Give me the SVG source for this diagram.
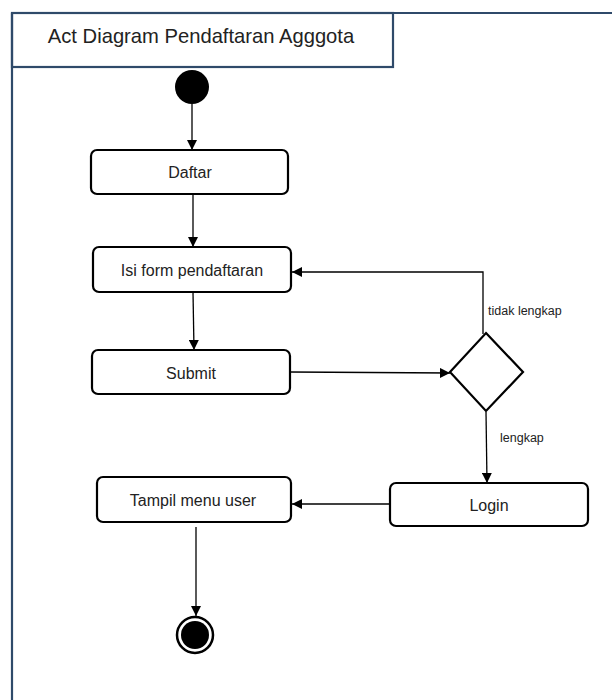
<svg xmlns="http://www.w3.org/2000/svg" width="612" height="700" viewBox="0 0 612 700">
<style>
.frame{fill:none;stroke:#2f4a6a;stroke-width:2.2}
.act{fill:#fff;stroke:#000;stroke-width:2.2}
.lbl{font-family:"Liberation Sans",Arial,sans-serif;font-size:16px;fill:#222;text-anchor:middle}
.small{font-family:"Liberation Sans",Arial,sans-serif;font-size:12.5px;fill:#222}
.edge{fill:none;stroke:#000;stroke-width:1.3}
</style>
<defs>
<marker id="arr" viewBox="0 0 10 10" refX="10" refY="5" markerWidth="10" markerHeight="10" markerUnits="userSpaceOnUse" orient="auto">
<path d="M0,0 L10,5 L0,10 Z" fill="#000"/>
</marker>
</defs>
<rect width="612" height="700" fill="#fff"/>
<g id="frame">
<path class="frame" d="M12,13 H612 M12,13 V700"/>
<rect class="frame" x="12" y="13" width="381" height="54"/>
<text x="201" y="43" style="font-family:'Liberation Sans',Arial,sans-serif;font-size:20.2px;fill:#222;text-anchor:middle">Act Diagram Pendaftaran Agggota</text>
</g>
<g id="connectors">
<path class="edge" d="M192,104 V150" marker-end="url(#arr)"/>
<path class="edge" d="M193,194 V247" marker-end="url(#arr)"/>
<path class="edge" d="M193,292 L194,350" marker-end="url(#arr)"/>
<path class="edge" d="M290,372 L450,373" marker-end="url(#arr)"/>
<path class="edge" d="M483,334 V272 H292" marker-end="url(#arr)"/>
<path class="edge" d="M486,412 L487,483" marker-end="url(#arr)"/>
<path class="edge" d="M390,504 H292" marker-end="url(#arr)"/>
<path class="edge" d="M196,527 V616" marker-end="url(#arr)"/>
<text class="small" x="488" y="315">tidak lengkap</text>
<text class="small" x="500" y="442">lengkap</text>
</g>
<g id="start"><circle cx="192" cy="87" r="17" fill="#000"/></g>
<g id="daftar"><rect class="act" x="91" y="150" width="197" height="44" rx="6"/><text class="lbl" x="190" y="178">Daftar</text></g>
<g id="isi"><rect class="act" x="93" y="247" width="198" height="45" rx="6"/><text class="lbl" x="192" y="276">Isi form pendaftaran</text></g>
<g id="submit"><rect class="act" x="92" y="350" width="198" height="44" rx="6"/><text class="lbl" x="191" y="379">Submit</text></g>
<g id="decision"><path class="act" d="M486,333 L523,372 L486,411 L450,372 Z"/></g>
<g id="login"><rect class="act" x="390" y="483" width="198" height="43" rx="6"/><text class="lbl" x="489" y="511">Login</text></g>
<g id="tampil"><rect class="act" x="97" y="477" width="194" height="45" rx="6"/><text class="lbl" x="193" y="506">Tampil menu user</text></g>
<g id="end"><circle cx="195" cy="635" r="18" fill="#fff" stroke="#000" stroke-width="2.5"/><circle cx="195" cy="635" r="14" fill="#000"/></g>
</svg>
